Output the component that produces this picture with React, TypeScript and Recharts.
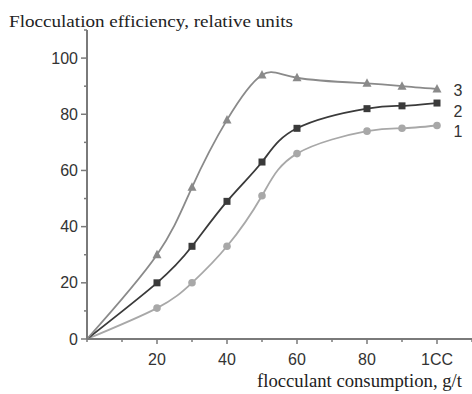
import React from "react";
import { LineChart, Line, XAxis, YAxis, Customized } from "recharts";

const xValues = [0, 20, 30, 40, 50, 60, 80, 90, 100];
const series1 = [0, 11, 20, 33, 51, 66, 74, 75, 76];
const series2 = [0, 20, 33, 49, 63, 75, 82, 83, 84];
const series3 = [0, 30, 54, 78, 94, 93, 91, 90, 89];
const seriesNames = ["1", "2", "3"];

const xAllTicks = [0, 10, 20, 30, 40, 50, 60, 70, 80, 90, 100, 110];
const xMajorTicks = [20, 40, 60, 80, 100];
const xMajorLabels = ["20", "40", "60", "80", "1CC"];
const yAllTicks = [0, 10, 20, 30, 40, 50, 60, 70, 80, 90, 100, 110];
const yMajorTicks = [0, 20, 40, 60, 80, 100];
const yMajorLabels = ["0", "20", "40", "60", "80", "100"];

const titleText = "Flocculation efficiency, relative units";
const xTitleText = "flocculant consumption, g/t";

const data = xValues.map((x, i) => ({ x, s1: series1[i], s2: series2[i], s3: series3[i] }));

const AXIS = "#7a7a7a";
const C1 = "#a8a8a8";
const C2 = "#3a3a3a";
const C3 = "#8a8a8a";
const SANS = "'Liberation Sans', Arial, sans-serif";
const SERIF = "'Liberation Serif', 'Times New Roman', serif";

const XTick = (props: any) => {
  const { x, y, payload } = props;
  const idx = xMajorTicks.indexOf(payload.value);
  const major = idx >= 0;
  return (
    <g>
      <line x1={x} x2={x} y1={y} y2={y + (major ? 5 : 3)} stroke={AXIS} strokeWidth={1.5} />
      {major && (
        <text x={x} y={y + 25.5} textAnchor="middle" fontFamily={SANS} fontSize={16} fill="#333">
          {xMajorLabels[idx]}
        </text>
      )}
    </g>
  );
};

const YTick = (props: any) => {
  const { x, y, payload } = props;
  const idx = yMajorTicks.indexOf(payload.value);
  const major = idx >= 0;
  return (
    <g>
      <line x1={x - (major ? 6 : 3)} x2={x} y1={y} y2={y} stroke={AXIS} strokeWidth={1.5} />
      {major && (
        <text x={x - 9} y={y + 5.5} textAnchor="end" fontFamily={SANS} fontSize={16} fill="#333">
          {yMajorLabels[idx]}
        </text>
      )}
    </g>
  );
};

const makeDot = (kind: string, color: string) => (props: any) => {
  const { cx, cy, index } = props;
  if (index === 0 || cx == null || cy == null) return <g key={`d${kind}${index}`} />;
  if (kind === "circle") return <circle key={`d${kind}${index}`} cx={cx} cy={cy} r={3.8} fill={color} />;
  if (kind === "square")
    return <rect key={`d${kind}${index}`} x={cx - 3.5} y={cy - 3.5} width={7} height={7} fill={color} />;
  return (
    <polygon
      key={`d${kind}${index}`}
      points={`${cx},${cy - 5} ${cx - 4.5},${cy + 3.5} ${cx + 4.5},${cy + 3.5}`}
      fill={color}
    />
  );
};

const makeEndLabel = (name: string, dy: number) => (props: any) => {
  const { x, y, index } = props;
  if (index !== xValues.length - 1) return null;
  return (
    <text x={x + 21} y={y + dy + 5.5} textAnchor="middle" fontFamily={SANS} fontSize={16} fill="#333">
      {name}
    </text>
  );
};

const Titles = () => (
  <g>
    <text x={9} y={27} fontFamily={SERIF} fontSize={17} fill="#222" textLength={284} lengthAdjust="spacingAndGlyphs">
      {titleText}
    </text>
    <text x={257} y={387} fontFamily={SERIF} fontSize={19} fill="#222" textLength={205} lengthAdjust="spacingAndGlyphs">
      {xTitleText}
    </text>
  </g>
);

export default function App() {
  return (
    <div style={{ position: "absolute", left: 0, top: 0, width: 472, height: 394, background: "#fff" }}>
      <LineChart width={472} height={394} data={data} margin={{ top: 30, right: 0, bottom: 0, left: 0 }}>
        <XAxis
          dataKey="x"
          type="number"
          domain={[0, 110]}
          ticks={xAllTicks}
          interval={0}
          height={55}
          tickLine={false}
          tickSize={0}
          tickMargin={0}
          axisLine={{ stroke: AXIS, strokeWidth: 2 }}
          tick={<XTick />}
        />
        <YAxis
          type="number"
          domain={[0, 110]}
          ticks={yAllTicks}
          interval={0}
          width={87}
          tickLine={false}
          tickSize={0}
          tickMargin={0}
          axisLine={{ stroke: AXIS, strokeWidth: 2 }}
          tick={<YTick />}
        />
        <Line
          type="natural"
          dataKey="s1"
          stroke={C1}
          strokeWidth={1.8}
          dot={makeDot("circle", C1)}
          isAnimationActive={false}
          label={makeEndLabel(seriesNames[0], 6)}
        />
        <Line
          type="natural"
          dataKey="s2"
          stroke={C2}
          strokeWidth={1.8}
          dot={makeDot("square", C2)}
          isAnimationActive={false}
          label={makeEndLabel(seriesNames[1], 8)}
        />
        <Line
          type="natural"
          dataKey="s3"
          stroke={C3}
          strokeWidth={1.8}
          dot={makeDot("triangle", C3)}
          isAnimationActive={false}
          label={makeEndLabel(seriesNames[2], 2)}
        />
        <Customized component={Titles} />
      </LineChart>
    </div>
  );
}
